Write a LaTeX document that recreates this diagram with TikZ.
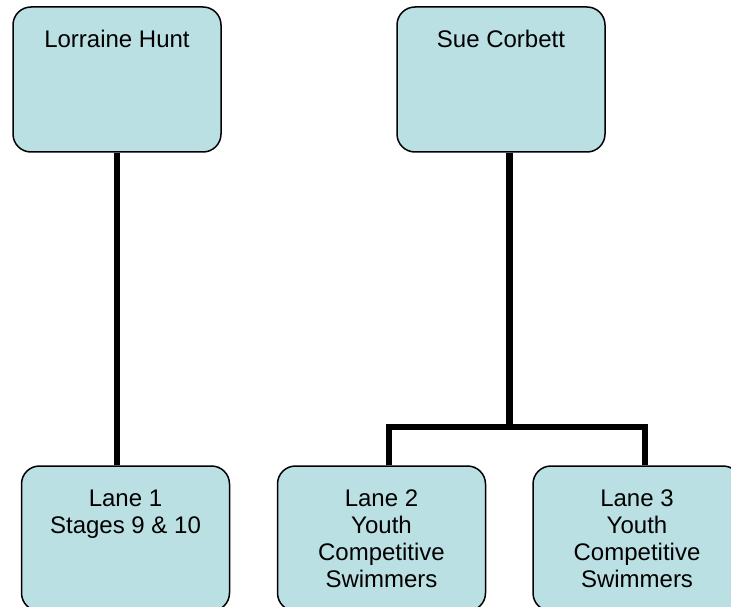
\documentclass[tikz,border=0pt]{standalone}
\usepackage{fontspec}
\setmainfont{Liberation Sans}
\usetikzlibrary{calc}
\definecolor{boxfill}{RGB}{187,224,227}
\tikzset{
  orgbox/.style={draw=black, line width=1.5pt, fill=boxfill, rounded corners=18pt,
    minimum width=208pt, minimum height=145pt, inner sep=0pt},
  orgtext/.style={anchor=base, inner sep=0pt, font=\fontsize{24}{27}\selectfont},
  conn/.style={line width=6.5pt, black, line join=miter, line cap=butt}
}
\newcommand{\orglines}[1]{\begin{tabular}[t]{@{}c@{}}#1\end{tabular}}
\begin{document}
\begin{tikzpicture}[x=1pt, y=-1pt]
  \useasboundingbox (0,0) rectangle (731,607);
  \clip (0,0) rectangle (731,607);

  % junction points of the tree under Sue Corbett
  \coordinate (sj) at (509.5,427);
  \coordinate (b2) at (389,427);
  \coordinate (b3) at (645,427);

  % boxes
  \node[orgbox] (lh) at (117,79.5) {};
  \node[orgbox] (sc) at (501,79.5) {};
  \node[orgbox] (l1) at (125.5,538.5) {};
  \node[orgbox] (l2) at (381.5,538.5) {};
  \node[orgbox] (l3) at (637,538.5) {};

  % connectors
  \draw[conn] (lh.south) -- (lh.south |- l1.north);
  \draw[conn] (sc.south -| sj) -- (sj);
  \draw[conn] (l2.north -| b2) -- (b2) -- (b3) -- (l3.north -| b3);

  % labels
  \node[orgtext] (lht) at ($(lh.north)+(0,41.5)$) {Lorraine Hunt};
  \node[orgtext] (sct) at ($(sc.north)+(0,41.5)$) {Sue Corbett};
  \node[orgtext] (l1t) at ($(l1.north)+(0,41.5)$) {\orglines{Lane 1\\Stages 9 \& 10}};
  \node[orgtext] (l2t) at ($(l2.north)+(0,41.5)$) {\orglines{Lane 2\\Youth\\Competitive\\Swimmers}};
  \node[orgtext] (l3t) at ($(l3.north)+(0,41.5)$) {\orglines{Lane 3\\Youth\\Competitive\\Swimmers}};
\end{tikzpicture}
\end{document}
